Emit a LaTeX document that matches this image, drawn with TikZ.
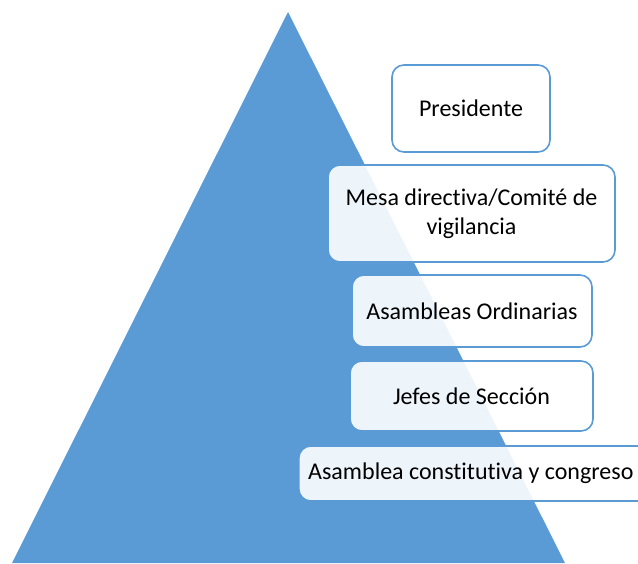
\documentclass[tikz,border=0pt]{standalone}
\usepackage{fontspec}
\setmainfont{Carlito}[Ligatures={NoCommon}]
\definecolor{pyr}{HTML}{5B9BD5}
\begin{document}
\begin{tikzpicture}[x=1pt,y=-1pt,
  lvl/.style={draw=pyr, line width=1.6pt, rounded corners=12pt, fill=white, fill opacity=0.9, text opacity=1, font=\fontsize{24}{29}\selectfont, align=center}]
\useasboundingbox (0,0) rectangle (638,563);
\clip (0,0) rectangle (638,563);
\fill[pyr] (288,12) -- (565,563) -- (12,563) -- cycle;
\node[lvl, minimum width=158pt, minimum height=87pt] (p) at (471,108.5) {Presidente};
\node[lvl, minimum width=287pt, minimum height=97pt] (m) at (471.5,213.5) {Mesa directiva/Comité de\\vigilancia};
\node[lvl, minimum width=240pt, minimum height=72pt] (o) at (472,311) {Asambleas Ordinarias};
\node[lvl, minimum width=243pt, minimum height=70pt] (j) at (471.5,396) {Jefes de Sección};
\node[lvl, minimum width=352pt, minimum height=55pt, anchor=west] (c) at (298,473.5) {};
\node[font=\fontsize{24}{29}\selectfont, anchor=west, inner sep=0pt] (ct) at (308,473.5) {Asamblea constitutiva y congreso};
\end{tikzpicture}
\end{document}
